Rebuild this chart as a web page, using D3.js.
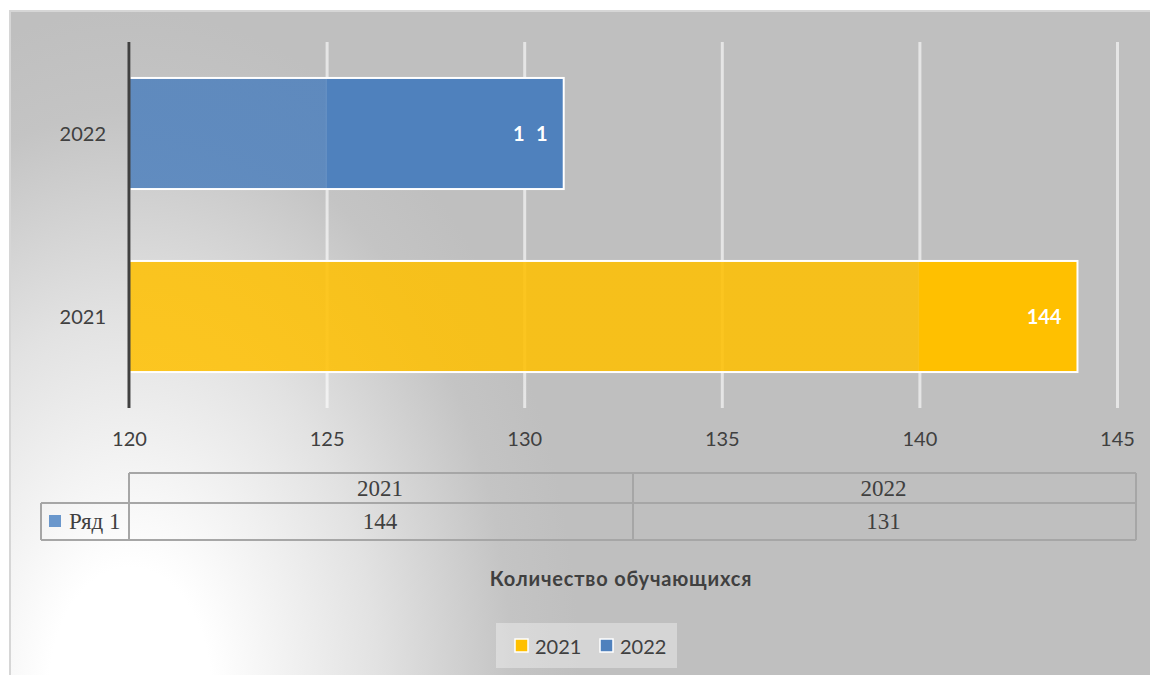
<!DOCTYPE html>
<html><head><meta charset="utf-8">
<script src="https://cdn.jsdelivr.net/npm/d3@7"></script>
<style>
html,body{margin:0;padding:0;background:#fff;}
svg{display:block;}
</style></head>
<body>
<svg id="chart" width="1150" height="675"></svg>
<script>
// ---- data ----
const categories = ["2022", "2021"];          // top to bottom
const values = [131, 144];
const barColors = ["#4f81bd", "#ffc000"];
const xTicks = [120, 125, 130, 135, 140, 145];
const tableCategories = ["2021", "2022"];
const tableValues = [144, 131];
const seriesName = "Ряд 1";
const legendLabels = ["2021", "2022"];
const legendColors = ["#ffc000", "#4f81bd"];
const title = "Количество обучающихся";
const splitAt = [125, 140]; // lighter left section of each bar ends at this value

const svg = d3.select("#chart");
const defs = svg.append("defs");

// background radial gradient (white bottom-left -> grey)
const bg = defs.append("radialGradient").attr("id","bg")
  .attr("gradientUnits","userSpaceOnUse")
  .attr("cx",0).attr("cy",0).attr("r",1)
  .attr("gradientTransform","translate(130,690) scale(450,680)");
bg.append("stop").attr("offset","0").attr("stop-color","#ffffff");
bg.append("stop").attr("offset","0.18").attr("stop-color","#ffffff");
bg.append("stop").attr("offset","0.55").attr("stop-color","#e2e2e2");
bg.append("stop").attr("offset","0.85").attr("stop-color","#c4c4c4");
bg.append("stop").attr("offset","1").attr("stop-color","#bfbfbf");

svg.append("rect").attr("x",10).attr("y",11).attr("width",1150).attr("height",680)
  .attr("fill","url(#bg)").attr("stroke","#d6d6d6").attr("stroke-width",2);

const x = d3.scaleLinear().domain([120,145]).range([129,1117]);
const y = d3.scaleBand().domain(categories).range([42,408]).paddingInner(0.393).paddingOuter(0.1965);

// gridlines
svg.append("g").attr("transform","translate(0,408)")
  .call(d3.axisBottom(x).tickValues(xTicks).tickSize(-366).tickFormat(""))
  .call(g=>g.select(".domain").remove())
  .call(g=>g.selectAll("line").attr("stroke","#ffffff").attr("stroke-opacity",0.6).attr("stroke-width",3));

// bar gradients
categories.forEach((c,i)=>{
  const x0 = x(120), x1 = x(values[i]);
  const off = (x(splitAt[i]) - x0)/(x1-x0);
  const g = defs.append("linearGradient").attr("id","bar"+i)
    .attr("x1","0").attr("x2","1").attr("y1","0").attr("y2","0");
  g.append("stop").attr("offset",0).attr("stop-color",barColors[i]).attr("stop-opacity",0.86);
  g.append("stop").attr("offset",off).attr("stop-color",barColors[i]).attr("stop-opacity",0.86);
  g.append("stop").attr("offset",off).attr("stop-color",barColors[i]).attr("stop-opacity",1);
  g.append("stop").attr("offset",1).attr("stop-color",barColors[i]).attr("stop-opacity",1);
});

svg.append("g").selectAll("rect").data(categories).join("rect")
  .attr("x",x(120)).attr("y",d=>y(d))
  .attr("width",(d,i)=>x(values[i])-x(120)).attr("height",y.bandwidth())
  .attr("fill",(d,i)=>"url(#bar"+i+")")
  .attr("stroke","#ffffff").attr("stroke-width",2);

// data labels (the middle digit of 131 is hidden in the reference)
const lab = svg.append("g").selectAll("text").data(categories).join("text")
  .attr("x",(d,i)=>x(values[i])-16).attr("y",d=>y(d)+y.bandwidth()/2)
  .attr("dy","0.36em").attr("text-anchor","end")
  .attr("font-family","Lato, sans-serif").attr("font-weight","bold").attr("font-size",20)
  .attr("fill","#ffffff");
lab.each(function(d,i){
  const s = String(values[i]);
  const t = d3.select(this);
  if (i===0) {
    t.append("tspan").text(s[0]);
    t.append("tspan").attr("fill",barColors[i]).attr("fill-opacity",0).text(s[1]);
    t.append("tspan").text(s.slice(2));
  } else t.text(s);
});

// vertical axis line
svg.append("line").attr("x1",x(120)).attr("x2",x(120)).attr("y1",42).attr("y2",408)
  .attr("stroke","#404040").attr("stroke-width",3);

// y labels
svg.append("g").selectAll("text").data(categories).join("text")
  .attr("x",106).attr("y",d=>y(d)+y.bandwidth()/2).attr("dy","0.36em")
  .attr("text-anchor","end").attr("font-family","Lato, sans-serif").attr("font-size",20)
  .attr("fill","#404040").text(d=>d);

// x tick labels
svg.append("g").attr("transform","translate(0,408)")
  .call(d3.axisBottom(x).tickValues(xTicks).tickSize(0).tickPadding(24))
  .call(g=>g.select(".domain").remove())
  .call(g=>g.selectAll("text").attr("font-family","Lato, sans-serif").attr("font-size",20).attr("fill","#404040"));

// data table
const tb = svg.append("g").attr("fill","none").attr("stroke","#a6a6a6").attr("stroke-width",2);
const colX = [129, 633, 1136];
tb.append("line").attr("x1",129).attr("x2",1136).attr("y1",473).attr("y2",473);
tb.append("line").attr("x1",41).attr("x2",1136).attr("y1",503).attr("y2",503);
tb.append("line").attr("x1",41).attr("x2",1136).attr("y1",540).attr("y2",540);
tb.append("line").attr("x1",41).attr("x2",41).attr("y1",503).attr("y2",540);
colX.forEach(cx=>tb.append("line").attr("x1",cx).attr("x2",cx).attr("y1",473).attr("y2",540));

const serif = "'Liberation Serif', 'Times New Roman', serif";
svg.append("g").selectAll("text").data(tableCategories).join("text")
  .attr("x",(d,i)=>(colX[i]+colX[i+1])/2 - 1).attr("y",488).attr("dy","0.34em")
  .attr("text-anchor","middle").attr("font-family",serif).attr("font-size",23).attr("fill","#404040").text(d=>d);
svg.append("g").selectAll("text").data(tableValues).join("text")
  .attr("x",(d,i)=>(colX[i]+colX[i+1])/2 - 1).attr("y",521).attr("dy","0.34em")
  .attr("text-anchor","middle").attr("font-family",serif).attr("font-size",23).attr("fill","#404040").text(d=>d);
svg.append("rect").attr("x",49).attr("y",515).attr("width",12).attr("height",12).attr("fill","#6a97cc");
svg.append("text").attr("x",69).attr("y",521).attr("dy","0.34em")
  .attr("font-family",serif).attr("font-size",23).attr("fill","#404040").text(seriesName);

// title
svg.append("text").attr("x",621).attr("y",586).attr("text-anchor","middle")
  .attr("font-family","Lato, sans-serif").attr("font-weight","bold").attr("font-size",20)
  .attr("letter-spacing","0.8px")
  .attr("fill","#404040").text(title);

// legend
const lg = svg.append("g");
lg.append("rect").attr("x",496).attr("y",623).attr("width",181).attr("height",45)
  .attr("fill","#ffffff").attr("fill-opacity",0.35);
const lx = [515, 600];
legendLabels.forEach((l,i)=>{
  lg.append("rect").attr("x",lx[i]).attr("y",639).attr("width",13).attr("height",13)
    .attr("fill",legendColors[i]).attr("stroke","#ffffff").attr("stroke-width",1.5);
  lg.append("text").attr("x",lx[i]+20).attr("y",654)
    .attr("font-family","Lato, sans-serif").attr("font-size",20).attr("fill","#404040").text(l);
});
</script>
</body></html>
